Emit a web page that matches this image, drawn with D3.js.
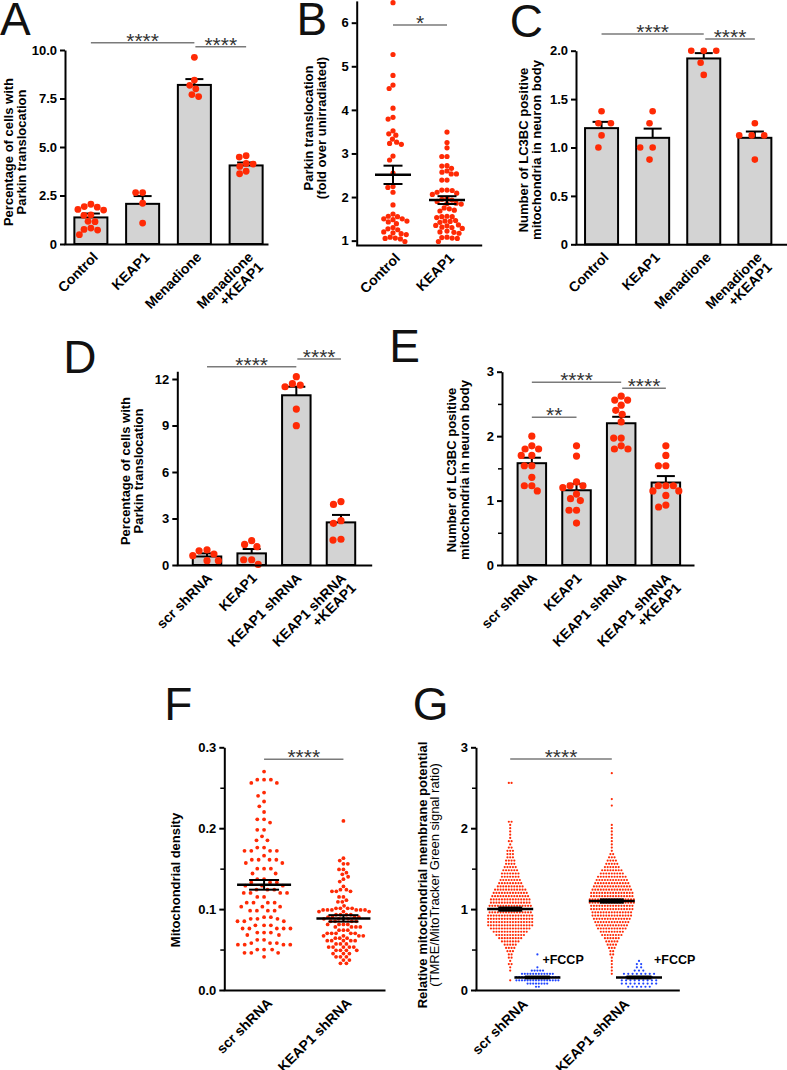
<!DOCTYPE html>
<html><head><meta charset="utf-8">
<script src="https://cdn.jsdelivr.net/npm/d3@7"></script>
<style>
html,body{margin:0;padding:0;background:#fff;}
svg{display:block;font-family:"Liberation Sans",Arial,Helvetica,sans-serif;}
</style></head><body>
<svg id="fig" width="787" height="1070"></svg>
<script>
// ================= DATA =================
// Panel A
const aCategories = ["Control", "KEAP1", "Menadione", "Menadione\n+KEAP1"];
const aMeans = [1.37, 2.07, 8.2, 4.05];
const aSems = [0.2, 0.4, 0.3, 0.15];
const aDotsControl = [2.05, 1.93, 1.9, 1.78, 1.75, 1.5, 1.48, 1.17, 1.15, 0.82, 0.75, 0.72, 0.48];
const aDotsKeap1 = [2.65, 2.65, 2.1, 1.08];
const aDotsMenadione = [9.62, 8.45, 8.18, 8.0, 7.7, 7.6];
const aDotsMenKeap1 = [4.55, 4.48, 4.15, 4.12, 4.0, 3.75, 3.62];
const aTicks = [0, 2.5, 5, 7.5, 10];
const aTickLabels = ["0", "2.5", "5.0", "7.5", "10.0"];

// Panel B
const bCategories = ["Control", "KEAP1"];
const bMeans = [2.51, 1.93];
const bSems = [0.21, 0.09];
const bDotsControl = [6.46, 5.27, 4.79, 4.57, 4.49, 4.04, 3.83, 3.79, 3.52, 3.45, 3.42, 3.33, 3.26, 3.23, 3.21,
  2.94, 2.85, 2.55, 2.24, 2.22, 2.11, 1.82, 1.61, 1.56, 1.55, 1.5, 1.5, 1.48, 1.45, 1.43, 1.39,
  1.3, 1.27, 1.25, 1.2, 1.18, 1.16, 1.14, 1.08, 1.06, 1.05, 1.04, 0.98];
const bDotsKeap1 = [3.49, 3.25, 3.13, 2.93, 2.93, 2.72, 2.71, 2.66, 2.6, 2.57, 2.53, 2.53, 2.39, 2.39,
  2.16, 2.16, 2.15, 2.11, 2.09, 2.06, 1.97, 1.95, 1.93, 1.9, 1.86, 1.85, 1.84, 1.75, 1.73, 1.7, 1.68,
  1.56, 1.55, 1.55, 1.53, 1.46, 1.45, 1.44, 1.42, 1.36, 1.35, 1.34, 1.31, 1.3, 1.28, 1.22, 1.2, 1.19,
  1.17, 1.08, 1.07, 1.06, 1.05, 0.98];
const bTicks = [1, 2, 3, 4, 5, 6];
const bTickLabels = ["1", "2", "3", "4", "5", "6"];

// Panel C
const cCategories = ["Control", "KEAP1", "Menadione", "Menadione\n+KEAP1"];
const cMeans = [1.2, 1.1, 1.92, 1.1];
const cSems = [0.065, 0.095, 0.055, 0.065];
const cDotsControl = [1.375, 1.25, 1.25, 1.125, 1.0];
const cDotsKeap1 = [1.375, 1.25, 1.0, 1.0, 0.875];
const cDotsMenadione = [2.0, 2.0, 2.0, 1.875, 1.75];
const cDotsMenKeap1 = [1.25, 1.125, 1.125, 1.125, 0.875];
const cTicks = [0, 0.5, 1.0, 1.5, 2.0];
const cTickLabels = ["0", "0.5", "1.0", "1.5", "2.0"];

// Panel D
const dCategories = ["scr shRNA", "KEAP1", "KEAP1 shRNA", "KEAP1 shRNA\n+KEAP1"];
const dMeans = [0.55, 0.75, 10.95, 2.75];
const dSems = [0.2, 0.28, 0.55, 0.48];
const dDotsScr = [0.97, 0.92, 0.71, 0.6, 0.28, 0.28];
const dDotsKeap1 = [1.57, 1.33, 1.18, 0.34, 0.34, 0.04];
const dDotsKeap1sh = [12.15, 11.7, 11.6, 11.5, 10.06, 8.99];
const dDotsKeap1shKeap1 = [4.09, 3.91, 2.86, 2.69, 1.66, 1.61];
const dTicks = [0, 3, 6, 9, 12];
const dTickLabels = ["0", "3", "6", "9", "12"];

// Panel E
const eCategories = ["scr shRNA", "KEAP1", "KEAP1 shRNA", "KEAP1 shRNA\n+KEAP1"];
const eMeans = [1.58, 1.16, 2.2, 1.28];
const eSems = [0.085, 0.1, 0.1, 0.1];
const eDotsScr = [2.0, 1.85, 1.8, 1.8, 1.7, 1.7, 1.54, 1.54, 1.36, 1.23, 1.23, 1.15];
const eDotsKeap1 = [1.85, 1.69, 1.29, 1.23, 1.23, 1.2, 1.1, 1.03, 1.0, 0.85, 0.85, 0.65];
const eDotsKeap1sh = [2.62, 2.56, 2.56, 2.48, 2.4, 2.34, 2.22, 1.97, 1.97, 1.85, 1.8, 1.8];
const eDotsKeap1shKeap1 = [1.85, 1.7, 1.54, 1.54, 1.23, 1.23, 1.23, 1.15, 1.15, 1.08, 0.93, 0.9];
const eTicks = [0, 1, 2, 3];
const eTickLabels = ["0", "1", "2", "3"];
const eMinorTicks = [0.5, 1.5, 2.5];

// Panel F
const fCategories = ["scr shRNA", "KEAP1 shRNA"];
const fMeans = [0.13, 0.0885];
const fSems = [0.006, 0.004];
const fDotsScr = [0.270, 0.260, 0.260, 0.260, 0.256, 0.256, 0.244, 0.240, 0.233, 0.227, 0.220,
  0.211, 0.211, 0.207, 0.198, 0.198, 0.190, 0.185, 0.185, 0.176, 0.176, 0.172, 0.172, 0.172, 0.172, 0.166,
  0.161, 0.161, 0.161, 0.161, 0.157, 0.157, 0.150, 0.150, 0.150, 0.144, 0.144, 0.137, 0.137,
  0.133, 0.133, 0.133, 0.129, 0.129, 0.129, 0.124, 0.124, 0.124, 0.120, 0.120, 0.120, 0.120, 0.115, 0.115,
  0.108, 0.108, 0.108, 0.108, 0.103, 0.103, 0.103, 0.098, 0.098, 0.098, 0.098, 0.090, 0.090, 0.088, 0.088, 0.088,
  0.085, 0.085, 0.085, 0.080, 0.080, 0.080, 0.076, 0.076, 0.076, 0.076, 0.076, 0.071, 0.071, 0.071, 0.068, 0.068,
  0.062, 0.062, 0.058, 0.058, 0.058, 0.056, 0.056, 0.056, 0.056, 0.050, 0.050, 0.050, 0.046, 0.046, 0.046, 0.041];
const fDotsKeap1 = [0.209, 0.163, 0.160, 0.156, 0.156, 0.149, 0.149, 0.145, 0.143, 0.140, 0.137, 0.134,
  0.128, 0.124, 0.124, 0.122, 0.122, 0.122, 0.115, 0.115, 0.111, 0.109, 0.109, 0.104,
  0.101, 0.101, 0.101, 0.101, 0.099, 0.099, 0.099, 0.099, 0.099, 0.099, 0.097, 0.097, 0.097,
  0.093, 0.093, 0.093, 0.093, 0.090, 0.090, 0.090, 0.090, 0.088, 0.088, 0.088, 0.088,
  0.085, 0.085, 0.085, 0.085, 0.081, 0.081, 0.081, 0.081, 0.078, 0.078, 0.078, 0.078,
  0.074, 0.074, 0.074, 0.070, 0.070, 0.070, 0.070, 0.070, 0.067, 0.067, 0.067, 0.067,
  0.064, 0.064, 0.064, 0.061, 0.061, 0.061, 0.061, 0.061, 0.057, 0.057, 0.057,
  0.053, 0.053, 0.053, 0.053, 0.053, 0.049, 0.049, 0.049, 0.049, 0.045, 0.045, 0.045,
  0.041, 0.041, 0.041, 0.037, 0.037, 0.033, 0.033];
const fTicks = [0, 0.1, 0.2, 0.3];
const fTickLabels = ["0.0", "0.1", "0.2", "0.3"];
const fMinorTicks = [0.05, 0.15, 0.25];

// Panel G  (row levels of the swarm and number of cells at each level)
const gCategories = ["scr shRNA", "KEAP1 shRNA"];
const gRedLevels = d3.range(67).map(i => +(0.08 + 0.04 * i).toFixed(2));
const gScrRedCounts = [0,1,0,0,1,1,2,1,2,2, 3,4,5,7,9,11,13,15,17,17, 17,17,16,16,16,15,15,14,13,12,
  10,9,8,7,7,6,5,4,4,3, 3,3,2,1,2,1,1,1,1,1, 2,0,0,0,0,0,0,0,0,0, 0,0,2,0,0,0,0];
const gKeapRedCounts = [0,0,0,1,1,1,1,1,1,2, 2,3,4,5,6,8,9,11,12,13, 14,15,15,16,16,17,17,16,16,15,
  14,13,12,11,9,8,6,5,4,3, 2,1,1,1,1,1,1,1,1,1, 0,0,0,0,0,1,0,1,0,0, 0,0,0,0,0,1,0];
const gBlueLevels = d3.range(11).map(i => +(0.04 + 0.04 * i).toFixed(2));
const gScrBlueCounts = [2, 8, 16, 16, 12, 5, 1, 0, 0, 0, 1];
const gKeapBlueCounts = [6, 9, 9, 7, 8, 3, 2, 2, 1, 0, 0];
const gRedMeans = [1.0, 1.1];
const gRedSems = [0.02, 0.02];
const gBlueMeans = [0.155, 0.155];
const gBlueSems = [0.011, 0.012];
const gTicks = [0, 1, 2, 3];
const gTickLabels = ["0", "1", "2", "3"];
const gMinorTicks = [0.5, 1.5, 2.5];

// ================= DRAWING =================
const RED = "#ff2a05";
const BLUE = "#1f44ff";
const BAR_FILL = "#d3d3d3";
const SIG_GRAY = "#7a7a7a";
const svg = d3.select("#fig");
svg.append("rect").attr("width", 787).attr("height", 1070).attr("fill", "#fff");

function panelLetter(txt, x, y) {
  svg.append("text").attr("x", x).attr("y", y).text(txt)
    .attr("font-size", 46).attr("fill", "#111");
}

function yAxis(g, y, x0, ticks, labels, minor) {
  const ax = g.append("g").attr("transform", `translate(${x0},0)`)
    .call(d3.axisLeft(y).tickValues(ticks).tickFormat((d, i) => labels[i])
      .tickSizeInner(5).tickSizeOuter(0).tickPadding(3));
  ax.select(".domain").attr("stroke", "#000").attr("stroke-width", 2);
  ax.selectAll(".tick line").attr("stroke", "#000").attr("stroke-width", 2);
  ax.selectAll(".tick text").attr("font-size", 13).attr("font-weight", "bold")
    .attr("font-family", '"Liberation Sans", Arial, sans-serif').attr("fill", "#000");
  if (minor) {
    const mx = g.append("g").attr("transform", `translate(${x0},0)`)
      .call(d3.axisLeft(y).tickValues(minor).tickFormat("").tickSizeInner(4).tickSizeOuter(0));
    mx.select(".domain").remove();
    mx.selectAll(".tick line").attr("stroke", "#000").attr("stroke-width", 1.5);
  }
}

function xAxisLine(g, x0, x1, y0) {
  const s = d3.scaleLinear().domain([0, 1]).range([x0 - 1, x1]);
  const ax = g.append("g").attr("transform", `translate(0,${y0})`)
    .call(d3.axisBottom(s).tickValues([]).tickSizeOuter(0));
  ax.select(".domain").attr("stroke", "#000").attr("stroke-width", 2);
}

function catLabels(g, cats, xpos, y0, dx, dy) {
  cats.forEach((c, i) => {
    const t = g.append("text")
      .attr("transform", `translate(${xpos(c) + dx},${y0 + dy}) rotate(-45)`)
      .attr("text-anchor", "end").attr("font-size", 14).attr("font-weight", "bold").attr("fill", "#000");
    c.split("\n").forEach((line, k) => {
      t.append("tspan").attr("x", 0).attr("dy", k === 0 ? 0 : "1.0em").text(line);
    });
  });
}

function axisTitle(g, lines, baselines, cy, weights) {
  const t = g.append("text").attr("transform", `translate(${baselines[0]},${cy}) rotate(-90)`)
    .attr("text-anchor", "middle").attr("font-size", 13).attr("fill", "#000");
  lines.forEach((l, k) => {
    t.append("tspan").attr("x", 0).attr("y", baselines[k] - baselines[0])
      .attr("font-weight", weights ? weights[k] : "bold").text(l);
  });
}

function sig(g, xa, xb, yl, label) {
  g.append("line").attr("x1", xa).attr("x2", xb).attr("y1", yl).attr("y2", yl)
    .attr("stroke", SIG_GRAY).attr("stroke-width", 1.4);
  g.append("text").attr("x", (xa + xb) / 2).attr("y", yl + 5).attr("text-anchor", "middle")
    .attr("font-size", 21).attr("fill", "#333").text(label);
}

function swarm(vals, y, md) {
  const pts = vals.map(v => ({ v, y: y(v), dx: 0 }));
  const order = pts.slice().sort((a, b) => a.y - b.y);
  const placed = [];
  for (const p of order) {
    const iv = [];
    for (const q of placed) {
      const dy = Math.abs(q.y - p.y);
      if (dy < md) { const w = Math.sqrt(md * md - dy * dy); iv.push([q.dx - w, q.dx + w]); }
    }
    const cands = [0];
    iv.forEach(([a, b]) => cands.push(a, b));
    cands.sort((a, b) => Math.abs(a) - Math.abs(b) || a - b);
    for (const c of cands) {
      if (iv.every(([a, b]) => c <= a + 1e-6 || c >= b - 1e-6)) { p.dx = c; break; }
    }
    placed.push(p);
  }
  return pts;
}

function barPanel(o) {
  const g = svg.append("g");
  const y = d3.scaleLinear().domain(o.domain).range([o.y0, o.yTop]);
  const x = d3.scaleBand().domain(o.cats).range(o.band).paddingInner(o.pad).paddingOuter(o.pad / 2);
  const cx = c => x(c) + x.bandwidth() / 2;
  g.selectAll("rect.bar").data(o.cats).join("rect").attr("class", "bar")
    .attr("x", d => x(d)).attr("width", x.bandwidth())
    .attr("y", (d, i) => y(o.means[i])).attr("height", (d, i) => y(o.domain[0]) - y(o.means[i]))
    .attr("fill", BAR_FILL).attr("stroke", "#000").attr("stroke-width", 2);
  o.cats.forEach((c, i) => {
    const xc = cx(c), yt = y(o.means[i] + o.sems[i]);
    g.append("line").attr("x1", xc).attr("x2", xc).attr("y1", y(o.means[i])).attr("y2", yt)
      .attr("stroke", "#000").attr("stroke-width", 2);
    g.append("line").attr("x1", xc - 9).attr("x2", xc + 9).attr("y1", yt).attr("y2", yt)
      .attr("stroke", "#000").attr("stroke-width", 2);
  });
  o.dots.forEach((vals, i) => {
    const xc = cx(o.cats[i]);
    g.selectAll(null).data(swarm(vals, y, o.md)).join("circle")
      .attr("cx", d => xc + d.dx).attr("cy", d => d.y).attr("r", o.r).attr("fill", RED);
  });
  yAxis(g, y, o.x0, o.ticks, o.labels, o.minor);
  xAxisLine(g, o.x0, o.xEnd, o.y0);
  catLabels(g, o.cats, cx, o.y0, o.lab[0], o.lab[1]);
  axisTitle(g, o.title, o.titleX, o.titleY);
  o.sigs.forEach(s => sig(g, cx(o.cats[s[0]]) + (s[4] || 0), cx(o.cats[s[1]]), s[2], s[3]));
  return { x, y, cx };
}

function scatterPanel(o) {
  const g = svg.append("g");
  const y = d3.scaleLinear().domain(o.domain).range([o.y0, o.yTop]);
  const x = d3.scaleBand().domain(o.cats).range(o.band);
  const cx = c => x(c) + x.bandwidth() / 2;
  o.dots.forEach((vals, i) => {
    const xc = cx(o.cats[i]);
    g.selectAll(null).data(swarm(vals, y, o.md[i])).join("circle")
      .attr("cx", d => xc + d.dx).attr("cy", d => d.y).attr("r", o.r).attr("fill", RED);
  });
  o.cats.forEach((c, i) => meanSem(g, cx(c), y, o.means[i], o.sems[i], o.meanHalf, o.capHalf, o.meanW));
  yAxis(g, y, o.x0, o.ticks, o.labels, o.minor);
  xAxisLine(g, o.x0, o.xEnd, o.y0);
  catLabels(g, o.cats, cx, o.y0, o.lab[0], o.lab[1]);
  axisTitle(g, o.title, o.titleX, o.titleY);
  o.sigs.forEach(s => sig(g, cx(o.cats[s[0]]), cx(o.cats[s[1]]), s[2], s[3]));
}

function meanSem(g, xc, y, m, s, half, cap, w) {
  g.append("line").attr("x1", xc - half).attr("x2", xc + half).attr("y1", y(m)).attr("y2", y(m))
    .attr("stroke", "#000").attr("stroke-width", w);
  [m - s, m + s].forEach(v => g.append("line").attr("x1", xc - cap).attr("x2", xc + cap)
    .attr("y1", y(v)).attr("y2", y(v)).attr("stroke", "#000").attr("stroke-width", 2));
  g.append("line").attr("x1", xc).attr("x2", xc).attr("y1", y(m - s)).attr("y2", y(m + s))
    .attr("stroke", "#000").attr("stroke-width", 2);
}

// ---- Panel A
barPanel({
  cats: aCategories, means: aMeans, sems: aSems,
  dots: [aDotsControl, aDotsKeap1, aDotsMenadione, aDotsMenKeap1],
  domain: [0, 10], y0: 244, yTop: 50, x0: 65, xEnd: 268, band: [65, 272], pad: 0.362,
  ticks: aTicks, labels: aTickLabels, r: 3.4, md: 7,
  lab: [8, 14], title: ["Percentage of cells with", "Parkin translocation"], titleX: [12.7, 26], titleY: 152,
  sigs: [[0, 2, 42.7, "****"], [2, 3, 46.7, "****", 1]]
});
panelLetter("A", 0, 35);

// ---- Panel B
scatterPanel({
  cats: bCategories, means: bMeans, sems: bSems, dots: [bDotsControl, bDotsKeap1],
  domain: [0.9, 6.5], y0: 245, yTop: 0.9, x0: 356.7, xEnd: 481.7, band: [366, 474],
  ticks: bTicks, labels: bTickLabels, r: 2.6, md: [5.2, 5.2],
  meanHalf: 18, capHalf: 9.5, meanW: 2.5,
  lab: [8, 14], title: ["Parkin translocation", "(fold over unirradiated)"], titleX: [313, 326], titleY: 128,
  sigs: [[0, 1, 25, "*"]]
});
panelLetter("B", 296.5, 35);

// ---- Panel C
barPanel({
  cats: cCategories, means: cMeans, sems: cSems,
  dots: [cDotsControl, cDotsKeap1, cDotsMenadione, cDotsMenKeap1],
  domain: [0, 2], y0: 244.3, yTop: 50.7, x0: 576, xEnd: 787, band: [576, 780.4], pad: 0.354,
  ticks: cTicks, labels: cTickLabels, r: 3.3, md: 12.5,
  lab: [8, 14], title: ["Number of LC3BC positive", "mitochondria in neuron body"], titleX: [527.5, 541], titleY: 150,
  sigs: [[0, 2, 34, "****"], [2, 3, 39, "****", 1.5]]
});
panelLetter("C", 509.7, 36.5);

// ---- Panel D
barPanel({
  cats: dCategories, means: dMeans, sems: dSems,
  dots: [dDotsScr, dDotsKeap1, dDotsKeap1sh, dDotsKeap1shKeap1],
  domain: [0, 12.5], y0: 565, yTop: 371.25, x0: 177.3, xEnd: 371.7, band: [184.7, 363.3], pad: 0.362,
  ticks: dTicks, labels: dTickLabels, r: 3.6, md: 8,
  lab: [6, 14], title: ["Percentage of cells with", "Parkin translocation"], titleX: [130, 143], titleY: 471,
  sigs: [[0, 2, 366.7, "****"], [2, 3, 359, "****", 1]]
});
panelLetter("D", 63.3, 373);

// ---- Panel E
barPanel({
  cats: eCategories, means: eMeans, sems: eSems,
  dots: [eDotsScr, eDotsKeap1, eDotsKeap1sh, eDotsKeap1shKeap1],
  domain: [0, 3], y0: 565, yTop: 371.7, x0: 502, xEnd: 694, band: [509.5, 688.2], pad: 0.362,
  ticks: eTicks, labels: eTickLabels, minor: eMinorTicks, r: 3.6, md: 7.5,
  lab: [6, 14], title: ["Number of LC3BC positive", "mitochondria in neuron body"], titleX: [456, 469], titleY: 470,
  sigs: [[0, 2, 382.3, "****"], [2, 3, 388.3, "****", 1], [0, 1, 417.3, "**"]]
});
panelLetter("E", 389.3, 361.7);

// ---- Panel F
scatterPanel({
  cats: fCategories, means: fMeans, sems: fSems, dots: [fDotsScr, fDotsKeap1],
  domain: [0, 0.3], y0: 990, yTop: 747.3, x0: 224.3, xEnd: 385, band: [224.4, 383.1],
  ticks: fTicks, labels: fTickLabels, minor: fMinorTicks, r: 1.9, md: [6.8, 4.4],
  meanHalf: 27, capHalf: 15, meanW: 2.5,
  lab: [9, 14], title: ["Mitochondrial density"], titleX: [180], titleY: 880,
  sigs: [[0, 1, 759.3, "****"]]
});
panelLetter("F", 164.3, 720);

// ---- Panel G
(function () {
  const g = svg.append("g");
  const y = d3.scaleLinear().domain([0, 3]).range([990, 747.3]);
  const x = d3.scaleBand().domain(gCategories).range([472.8, 676]);
  const cx = c => x(c) + x.bandwidth() / 2;
  const redX = c => cx(c) - 13.4;
  const blueX = c => cx(c) + 13.8;
  function rows(levels, counts, sp) {
    const out = [];
    levels.forEach((lv, i) => {
      const n = counts[i];
      for (let k = 0; k < n; k++) out.push({ v: lv, dx: (k - (n - 1) / 2) * sp });
    });
    return out;
  }
  const sets = [
    { c: gCategories[0], pts: rows(gRedLevels, gScrRedCounts, 2.75), col: RED, xf: redX },
    { c: gCategories[1], pts: rows(gRedLevels, gKeapRedCounts, 2.75), col: RED, xf: redX },
    { c: gCategories[0], pts: rows(gBlueLevels, gScrBlueCounts, 2.8), col: BLUE, xf: blueX },
    { c: gCategories[1], pts: rows(gBlueLevels, gKeapBlueCounts, 4.3), col: BLUE, xf: blueX }
  ];
  sets.forEach(s => {
    const xc = s.xf(s.c);
    g.selectAll(null).data(s.pts).join("circle")
      .attr("cx", d => xc + d.dx).attr("cy", d => y(d.v)).attr("r", 1.1).attr("fill", s.col);
  });
  gCategories.forEach((c, i) => {
    meanSem(g, redX(c), y, gRedMeans[i], gRedSems[i], 23, 12, 2.5);
    meanSem(g, blueX(c), y, gBlueMeans[i], gBlueSems[i], 23, 12.5, 2.5);
  });
  const fccpDx = [5, 15];
  gCategories.forEach((c, i) => {
    g.append("text").attr("x", blueX(c) + fccpDx[i]).attr("y", 964).attr("font-size", 12.5)
      .attr("font-weight", "bold").attr("fill", "#000").text("+FCCP");
  });
  yAxis(g, y, 476, gTicks, gTickLabels, gMinorTicks);
  xAxisLine(g, 476, 679.3, 990);
  catLabels(g, gCategories, cx, 990, 5, 15);
  axisTitle(g, ["Relative mitochondrial membrane potential", "(TMRE/MitoTracker Green signal ratio)"],
    [426.7, 439.5], 875, ["bold", "normal"]);
  sig(g, redX(gCategories[0]), redX(gCategories[1]), 759, "****");
})();
panelLetter("G", 412.7, 719.5);
</script>
</body></html>
